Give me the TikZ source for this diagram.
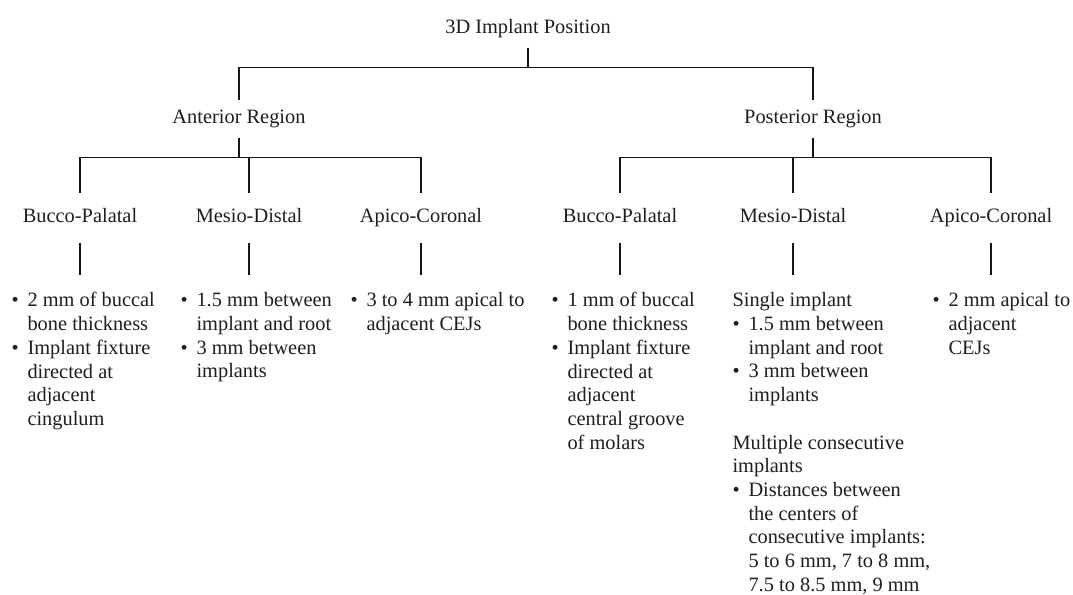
\documentclass[tikz,border=0pt]{standalone}
\usepackage{fontspec}
\setmainfont{Liberation Serif}
\usepackage{tikz}
\usetikzlibrary{positioning}
\definecolor{plan@ink}{RGB}{30,30,30}
\definecolor{plan@rule}{RGB}{20,20,20}
\newcommand{\bl}{\makebox[0.32cm][l]{\textbullet}}
\newcommand{\ind}{\hspace*{0.32cm}}
\tikzset{
  plan/.style={
    font=\fontsize{11.6pt}{13.5pt}\selectfont,
    line width=0.6pt,
    every node/.style={text=plan@ink}
  },
  headnode/.style={                % title and region labels
    inner sep=0pt,
    text height=8pt, text depth=2.6pt,
    minimum height=0.72cm
  },
  axisnode/.style={                % bucco / mesio / apico labels
    inner sep=0pt,
    text height=8pt, text depth=2.6pt,
    minimum height=0.96cm
  },
  rulelist/.style={                % bullet lists
    anchor=north west, align=left,
    inner xsep=0pt, inner ysep=0.34cm
  },
  branch/.style={draw=plan@rule, line width=0.6pt}
}

\begin{document}
\begin{tikzpicture}[plan]
\useasboundingbox (0,0) rectangle (21.46,-11.9);

% Title at top
\node[headnode] (top) at (10.56,-0.58) {3D Implant Position};

% The two regions
\node[headnode] (ant) at (4.78,-2.38) {Anterior Region};
\node[headnode] (post) at (16.26,-2.38) {Posterior Region};

% Directions, anterior
\node[axisnode] (abp) at (1.6,-4.36) {Bucco-Palatal};
\node[axisnode] (amd) at (4.98,-4.36) {Mesio-Distal};
\node[axisnode] (aac) at (8.42,-4.36) {Apico-Coronal};

% Directions, posterior
\node[axisnode] (pbp) at (12.4,-4.36) {Bucco-Palatal};
\node[axisnode] (pmd) at (15.86,-4.36) {Mesio-Distal};
\node[axisnode] (pac) at (19.82,-4.36) {Apico-Coronal};

% Rules under each direction
\node[rulelist] (abplist) at (0.22,-5.5)
  {\bl 2 mm of buccal\\\ind bone thickness\\\bl Implant fixture\\\ind directed at\\\ind adjacent\\\ind cingulum};
\node[rulelist] (amdlist) at (3.6,-5.5)
  {\bl 1.5 mm between\\\ind implant and root\\\bl 3 mm between\\\ind implants};
\node[rulelist] (aaclist) at (7.0,-5.5)
  {\bl 3 to 4 mm apical to\\\ind adjacent CEJs};
\node[rulelist] (pbplist) at (11.02,-5.5)
  {\bl 1 mm of buccal\\\ind bone thickness\\\bl Implant fixture\\\ind directed at\\\ind adjacent\\\ind central groove\\\ind of molars};
\node[rulelist] (pmdlist) at (14.64,-5.5)
  {Single implant\\\bl 1.5 mm between\\\ind implant and root\\\bl 3 mm between\\\ind implants\\[13.5pt]Multiple consecutive\\implants\\\bl Distances between\\\ind the centers of\\\ind consecutive implants:\\\ind 5 to 6 mm, 7 to 8 mm,\\\ind 7.5 to 8.5 mm, 9 mm};
\node[rulelist] (paclist) at (18.64,-5.5)
  {\bl 2 mm apical to\\\ind adjacent\\\ind CEJs};

% Title to regions
\draw[branch] (top.south) -- ++(0,-0.4) -| (ant.north);
\draw[branch] (top.south) -- ++(0,-0.4) -| (post.north);

% Regions to directions
\draw[branch] (ant.south) -- ++(0,-0.4) -| (abp.north);
\draw[branch] (ant.south) -- ++(0,-0.4) -| (amd.north);
\draw[branch] (ant.south) -- ++(0,-0.4) -| (aac.north);
\draw[branch] (post.south) -- ++(0,-0.4) -| (pbp.north);
\draw[branch] (post.south) -- ++(0,-0.4) -| (pmd.north);
\draw[branch] (post.south) -- ++(0,-0.4) -| (pac.north);

% Directions to their rules
\draw[branch] (abp.south) -- (abp.south |- abplist.north);
\draw[branch] (amd.south) -- (amd.south |- amdlist.north);
\draw[branch] (aac.south) -- (aac.south |- aaclist.north);
\draw[branch] (pbp.south) -- (pbp.south |- pbplist.north);
\draw[branch] (pmd.south) -- (pmd.south |- pmdlist.north);
\draw[branch] (pac.south) -- (pac.south |- paclist.north);

\end{tikzpicture}
\end{document}
